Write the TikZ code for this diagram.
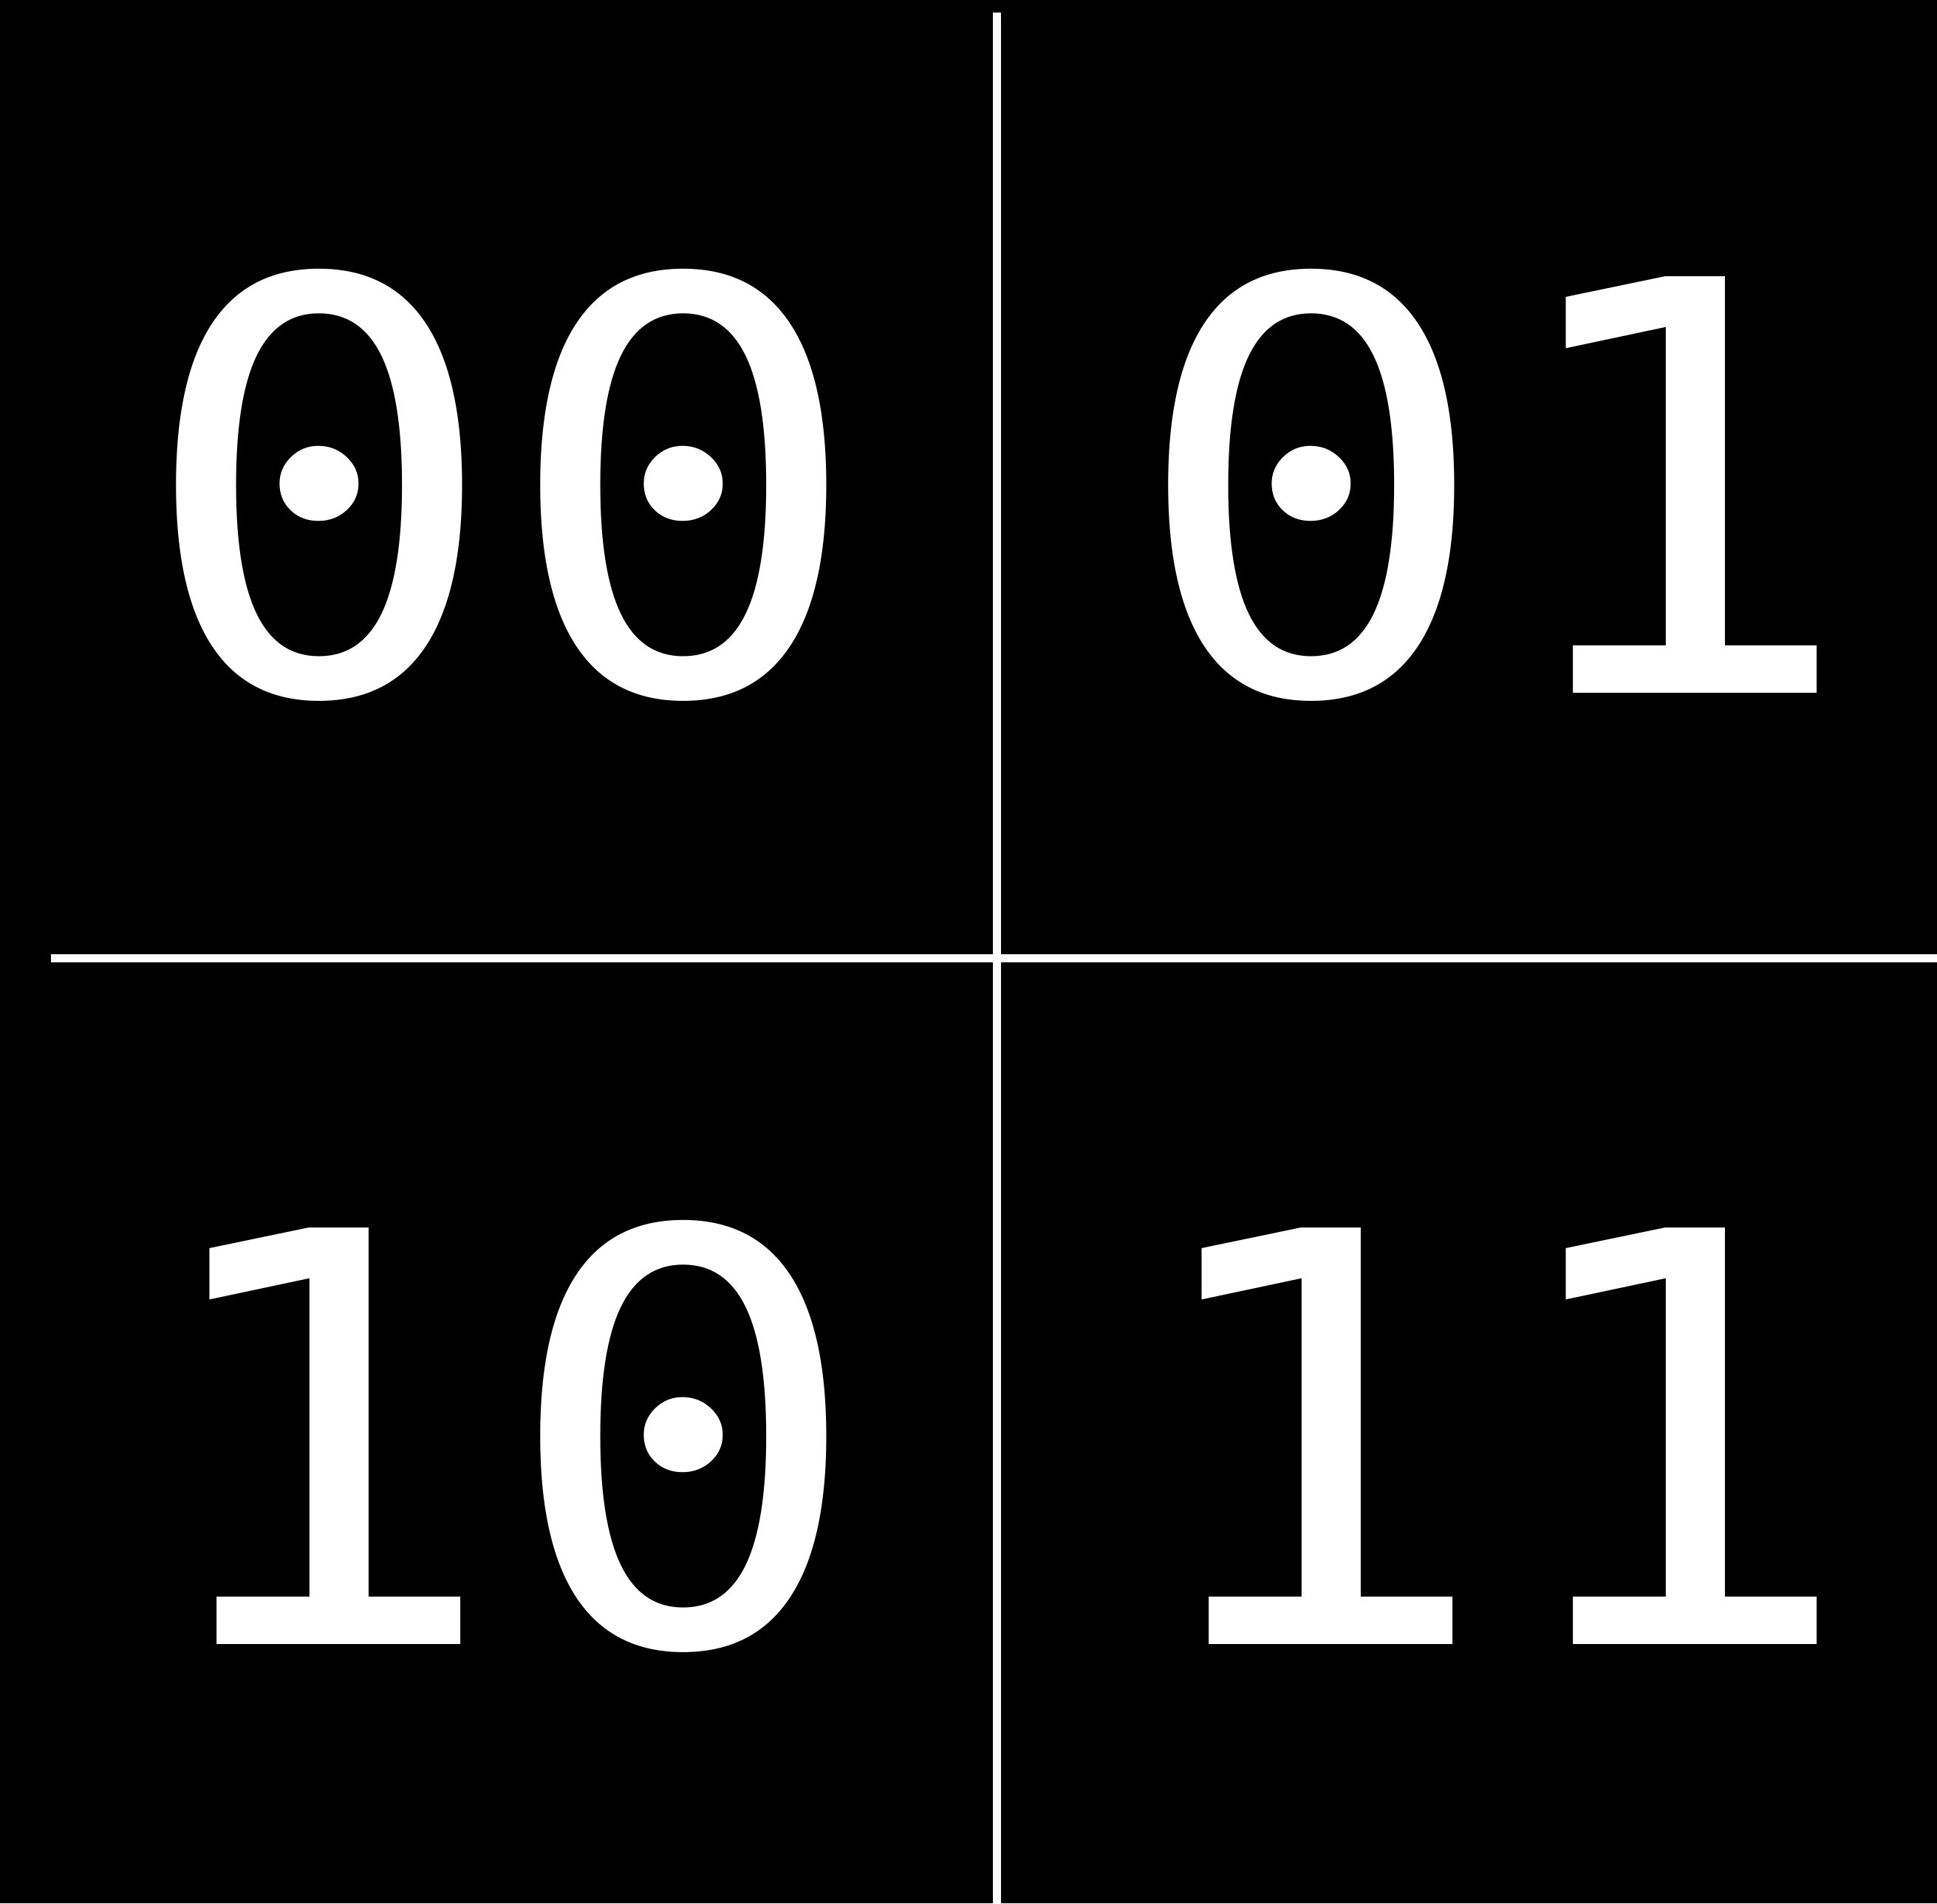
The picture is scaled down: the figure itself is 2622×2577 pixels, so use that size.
\documentclass[tikz,border=0pt]{standalone}
\usepackage{fontspec}
\newfontfamily\bitfont[FakeStretch=1.06,Numbers=SlashedZero]{DejaVu Sans Mono}
\usepackage{tikz}
\usetikzlibrary{calc}

\begin{document}
\begin{tikzpicture}[x=0.01cm,y=0.01cm,
    bits/.style={text=white,inner sep=0pt,anchor=base,font=\bitfont\fontsize{220}{220}\selectfont},
    grid/.style={white,line width=0.11cm}]
    \fill[black] (0,0) rectangle (2622,2577);
    \useasboundingbox (0,0) rectangle (2622,2577);
    \coordinate (top) at (1349.5,2560);
    \coordinate (bottom) at (1349.5,0);
    \coordinate (left) at (69,1280);
    \coordinate (right) at (2622,1280);
    \draw[grid] (top) -- (bottom);
    \draw[grid] (left) -- (right);
    \node[bits] (b00) at (679,1639) {00};
    \node[bits] (b01) at (2022,1639) {01};
    \node[bits] (b10) at (679,351) {10};
    \node[bits] (b11) at (2022,351) {11};
\end{tikzpicture}
\end{document}
